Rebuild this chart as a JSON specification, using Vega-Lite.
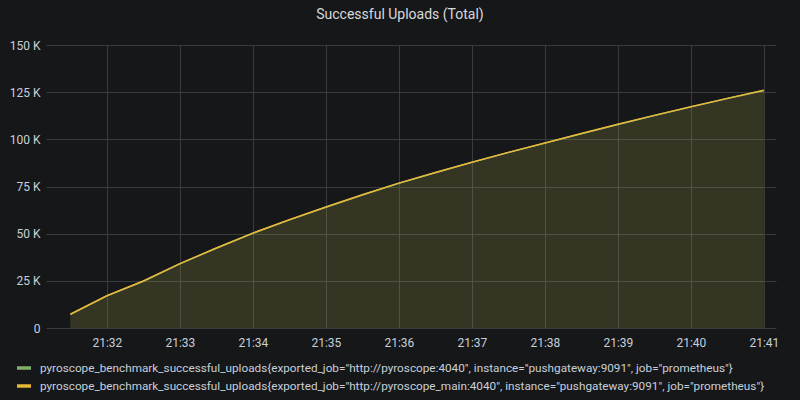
{
  "$schema": "https://vega.github.io/schema/vega-lite/v6.json",
  "width": 730,
  "height": 283,
  "autosize": {"type": "none"},
  "padding": {"left": 46, "top": 45, "right": 24, "bottom": 72},
  "background": "#161719",
  "title": {
    "text": "Successful Uploads (Total)",
    "anchor": "middle",
    "dx": -11,
    "offset": 17,
    "font": "Roboto",
    "fontSize": 14,
    "fontWeight": "normal",
    "color": "#d8d9da"
  },
  "config": {
    "view": {"stroke": null},
    "font": "Roboto"
  },
  "datasets": {
    "uploads": [
      {"time": 1614634290000, "series": "pyroscope_benchmark_successful_uploads{exported_job=\"http://pyroscope:4040\", instance=\"pushgateway:9091\", job=\"prometheus\"}", "value": 7200},
      {"time": 1614634320000, "series": "pyroscope_benchmark_successful_uploads{exported_job=\"http://pyroscope:4040\", instance=\"pushgateway:9091\", job=\"prometheus\"}", "value": 17000},
      {"time": 1614634350000, "series": "pyroscope_benchmark_successful_uploads{exported_job=\"http://pyroscope:4040\", instance=\"pushgateway:9091\", job=\"prometheus\"}", "value": 24800},
      {"time": 1614634380000, "series": "pyroscope_benchmark_successful_uploads{exported_job=\"http://pyroscope:4040\", instance=\"pushgateway:9091\", job=\"prometheus\"}", "value": 34000},
      {"time": 1614634410000, "series": "pyroscope_benchmark_successful_uploads{exported_job=\"http://pyroscope:4040\", instance=\"pushgateway:9091\", job=\"prometheus\"}", "value": 42300},
      {"time": 1614634440000, "series": "pyroscope_benchmark_successful_uploads{exported_job=\"http://pyroscope:4040\", instance=\"pushgateway:9091\", job=\"prometheus\"}", "value": 50200},
      {"time": 1614634470000, "series": "pyroscope_benchmark_successful_uploads{exported_job=\"http://pyroscope:4040\", instance=\"pushgateway:9091\", job=\"prometheus\"}", "value": 57300},
      {"time": 1614634500000, "series": "pyroscope_benchmark_successful_uploads{exported_job=\"http://pyroscope:4040\", instance=\"pushgateway:9091\", job=\"prometheus\"}", "value": 64000},
      {"time": 1614634530000, "series": "pyroscope_benchmark_successful_uploads{exported_job=\"http://pyroscope:4040\", instance=\"pushgateway:9091\", job=\"prometheus\"}", "value": 70500},
      {"time": 1614634560000, "series": "pyroscope_benchmark_successful_uploads{exported_job=\"http://pyroscope:4040\", instance=\"pushgateway:9091\", job=\"prometheus\"}", "value": 76700},
      {"time": 1614634590000, "series": "pyroscope_benchmark_successful_uploads{exported_job=\"http://pyroscope:4040\", instance=\"pushgateway:9091\", job=\"prometheus\"}", "value": 82300},
      {"time": 1614634620000, "series": "pyroscope_benchmark_successful_uploads{exported_job=\"http://pyroscope:4040\", instance=\"pushgateway:9091\", job=\"prometheus\"}", "value": 87800},
      {"time": 1614634650000, "series": "pyroscope_benchmark_successful_uploads{exported_job=\"http://pyroscope:4040\", instance=\"pushgateway:9091\", job=\"prometheus\"}", "value": 93000},
      {"time": 1614634680000, "series": "pyroscope_benchmark_successful_uploads{exported_job=\"http://pyroscope:4040\", instance=\"pushgateway:9091\", job=\"prometheus\"}", "value": 98000},
      {"time": 1614634710000, "series": "pyroscope_benchmark_successful_uploads{exported_job=\"http://pyroscope:4040\", instance=\"pushgateway:9091\", job=\"prometheus\"}", "value": 103000},
      {"time": 1614634740000, "series": "pyroscope_benchmark_successful_uploads{exported_job=\"http://pyroscope:4040\", instance=\"pushgateway:9091\", job=\"prometheus\"}", "value": 107900},
      {"time": 1614634770000, "series": "pyroscope_benchmark_successful_uploads{exported_job=\"http://pyroscope:4040\", instance=\"pushgateway:9091\", job=\"prometheus\"}", "value": 112600},
      {"time": 1614634800000, "series": "pyroscope_benchmark_successful_uploads{exported_job=\"http://pyroscope:4040\", instance=\"pushgateway:9091\", job=\"prometheus\"}", "value": 117200},
      {"time": 1614634830000, "series": "pyroscope_benchmark_successful_uploads{exported_job=\"http://pyroscope:4040\", instance=\"pushgateway:9091\", job=\"prometheus\"}", "value": 121600},
      {"time": 1614634860000, "series": "pyroscope_benchmark_successful_uploads{exported_job=\"http://pyroscope:4040\", instance=\"pushgateway:9091\", job=\"prometheus\"}", "value": 125900},
      {"time": 1614634290000, "series": "pyroscope_benchmark_successful_uploads{exported_job=\"http://pyroscope_main:4040\", instance=\"pushgateway:9091\", job=\"prometheus\"}", "value": 7300},
      {"time": 1614634320000, "series": "pyroscope_benchmark_successful_uploads{exported_job=\"http://pyroscope_main:4040\", instance=\"pushgateway:9091\", job=\"prometheus\"}", "value": 17100},
      {"time": 1614634350000, "series": "pyroscope_benchmark_successful_uploads{exported_job=\"http://pyroscope_main:4040\", instance=\"pushgateway:9091\", job=\"prometheus\"}", "value": 24900},
      {"time": 1614634380000, "series": "pyroscope_benchmark_successful_uploads{exported_job=\"http://pyroscope_main:4040\", instance=\"pushgateway:9091\", job=\"prometheus\"}", "value": 34100},
      {"time": 1614634410000, "series": "pyroscope_benchmark_successful_uploads{exported_job=\"http://pyroscope_main:4040\", instance=\"pushgateway:9091\", job=\"prometheus\"}", "value": 42400},
      {"time": 1614634440000, "series": "pyroscope_benchmark_successful_uploads{exported_job=\"http://pyroscope_main:4040\", instance=\"pushgateway:9091\", job=\"prometheus\"}", "value": 50300},
      {"time": 1614634470000, "series": "pyroscope_benchmark_successful_uploads{exported_job=\"http://pyroscope_main:4040\", instance=\"pushgateway:9091\", job=\"prometheus\"}", "value": 57400},
      {"time": 1614634500000, "series": "pyroscope_benchmark_successful_uploads{exported_job=\"http://pyroscope_main:4040\", instance=\"pushgateway:9091\", job=\"prometheus\"}", "value": 64100},
      {"time": 1614634530000, "series": "pyroscope_benchmark_successful_uploads{exported_job=\"http://pyroscope_main:4040\", instance=\"pushgateway:9091\", job=\"prometheus\"}", "value": 70600},
      {"time": 1614634560000, "series": "pyroscope_benchmark_successful_uploads{exported_job=\"http://pyroscope_main:4040\", instance=\"pushgateway:9091\", job=\"prometheus\"}", "value": 76800},
      {"time": 1614634590000, "series": "pyroscope_benchmark_successful_uploads{exported_job=\"http://pyroscope_main:4040\", instance=\"pushgateway:9091\", job=\"prometheus\"}", "value": 82400},
      {"time": 1614634620000, "series": "pyroscope_benchmark_successful_uploads{exported_job=\"http://pyroscope_main:4040\", instance=\"pushgateway:9091\", job=\"prometheus\"}", "value": 87900},
      {"time": 1614634650000, "series": "pyroscope_benchmark_successful_uploads{exported_job=\"http://pyroscope_main:4040\", instance=\"pushgateway:9091\", job=\"prometheus\"}", "value": 93100},
      {"time": 1614634680000, "series": "pyroscope_benchmark_successful_uploads{exported_job=\"http://pyroscope_main:4040\", instance=\"pushgateway:9091\", job=\"prometheus\"}", "value": 98100},
      {"time": 1614634710000, "series": "pyroscope_benchmark_successful_uploads{exported_job=\"http://pyroscope_main:4040\", instance=\"pushgateway:9091\", job=\"prometheus\"}", "value": 103100},
      {"time": 1614634740000, "series": "pyroscope_benchmark_successful_uploads{exported_job=\"http://pyroscope_main:4040\", instance=\"pushgateway:9091\", job=\"prometheus\"}", "value": 108000},
      {"time": 1614634770000, "series": "pyroscope_benchmark_successful_uploads{exported_job=\"http://pyroscope_main:4040\", instance=\"pushgateway:9091\", job=\"prometheus\"}", "value": 112700},
      {"time": 1614634800000, "series": "pyroscope_benchmark_successful_uploads{exported_job=\"http://pyroscope_main:4040\", instance=\"pushgateway:9091\", job=\"prometheus\"}", "value": 117300},
      {"time": 1614634830000, "series": "pyroscope_benchmark_successful_uploads{exported_job=\"http://pyroscope_main:4040\", instance=\"pushgateway:9091\", job=\"prometheus\"}", "value": 121700},
      {"time": 1614634860000, "series": "pyroscope_benchmark_successful_uploads{exported_job=\"http://pyroscope_main:4040\", instance=\"pushgateway:9091\", job=\"prometheus\"}", "value": 126000}
    ]
  },
  "data": {"name": "uploads"},
  "encoding": {
    "x": {
      "field": "time",
      "type": "quantitative",
      "scale": {
        "domain": [1614634270000, 1614634870000],
        "nice": false,
        "zero": false
      },
      "axis": {
        "title": null,
        "values": [1614634320000, 1614634380000, 1614634440000, 1614634500000, 1614634560000, 1614634620000, 1614634680000, 1614634740000, 1614634800000, 1614634860000],
        "labelExpr": "utcFormat(datum.value, '%H:%M')",
        "domain": false,
        "ticks": false,
        "labelPadding": 9,
        "labelFont": "Roboto",
        "labelFontSize": 12,
        "labelColor": "#c7d0d9",
        "grid": true,
        "gridColor": "#3a3b3f",
        "gridWidth": 1,
        "labelFlush": false,
        "labelOverlap": false
      }
    },
    "y": {
      "field": "value",
      "type": "quantitative",
      "stack": null,
      "scale": {"domain": [0, 150000], "nice": false},
      "axis": {
        "title": null,
        "values": [0, 25000, 50000, 75000, 100000, 125000, 150000],
        "labelExpr": "datum.value == 0 ? '0' : (datum.value / 1000) + ' K'",
        "domain": false,
        "ticks": false,
        "labelPadding": 6,
        "labelFont": "Roboto",
        "labelFontSize": 12,
        "labelColor": "#c7d0d9",
        "grid": true,
        "gridColor": "#3a3b3f",
        "gridWidth": 1
      }
    },
    "color": {
      "field": "series",
      "type": "nominal",
      "scale": {
        "domain": [
          "pyroscope_benchmark_successful_uploads{exported_job=\"http://pyroscope:4040\", instance=\"pushgateway:9091\", job=\"prometheus\"}",
          "pyroscope_benchmark_successful_uploads{exported_job=\"http://pyroscope_main:4040\", instance=\"pushgateway:9091\", job=\"prometheus\"}"
        ],
        "range": ["#7EB26D", "#EAB839"]
      },
      "legend": {
        "title": null,
        "orient": "none",
        "direction": "vertical",
        "legendX": -29,
        "legendY": 316,
        "symbolType": "M-1,-0.25H1V0.25H-1Z",
        "symbolSize": 196,
        "symbolStrokeWidth": 0,
        "symbolOpacity": 1,
        "labelFont": "Roboto",
        "labelFontSize": 11.75,
        "labelColor": "#c7d0d9",
        "labelLimit": 800,
        "labelOffset": 9,
        "rowPadding": 4
      }
    }
  },
  "layer": [
    {"mark": {"type": "area", "opacity": 0.1}},
    {"mark": {"type": "line", "strokeWidth": 1.5}}
  ]
}
